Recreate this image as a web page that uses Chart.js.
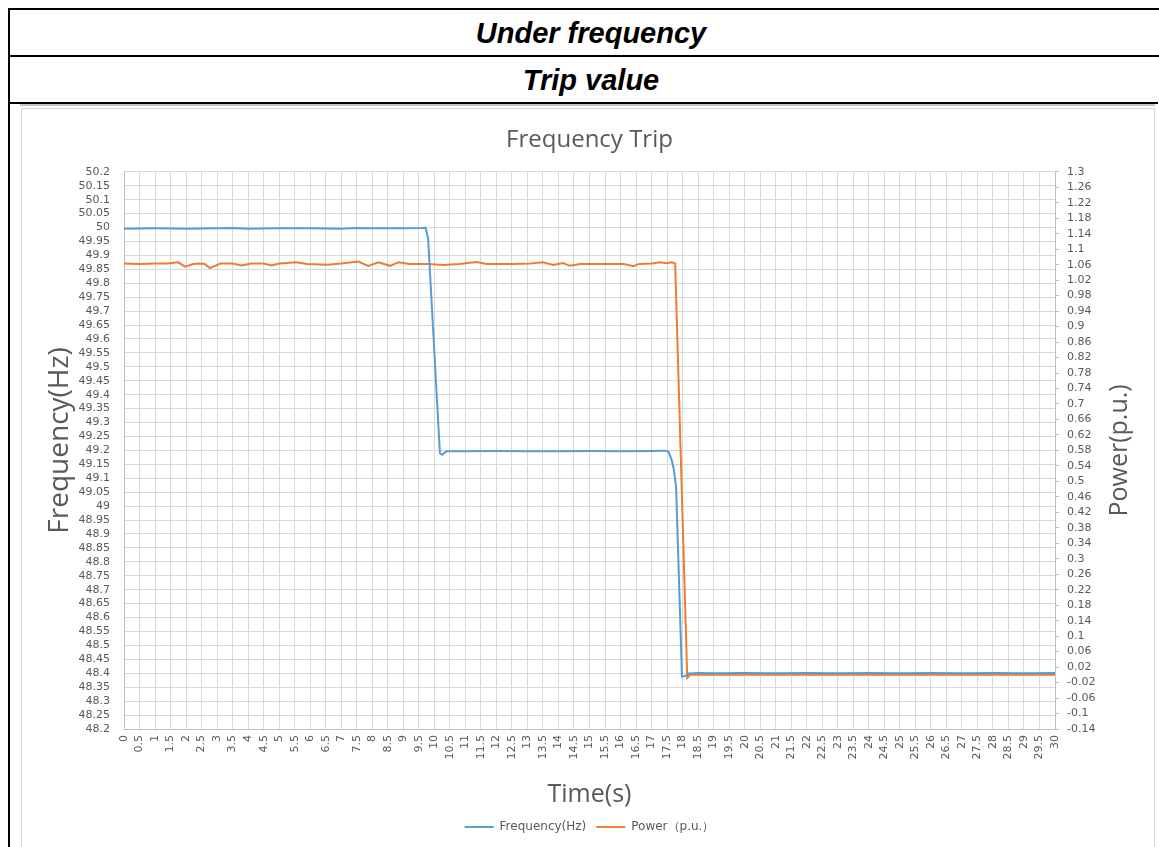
<!DOCTYPE html>
<html>
<head>
<meta charset="utf-8">
<script src="https://cdn.jsdelivr.net/npm/chart.js@4/dist/chart.umd.min.js"></script>
<style>
  html, body { margin: 0; padding: 0; background: #fff; }
  body { width: 1159px; height: 847px; position: relative; overflow: hidden; }
  .cell {
    position: absolute; left: 8px; width: 1162px; height: 45px;
    border-top: 2px solid #000; border-left: 2px solid #000;
    font: italic bold 29px "Liberation Sans", Arial, sans-serif;
    text-align: center; line-height: 47px; color: #000;
  }
  .row1 { top: 8px; }
  .row2 { top: 55px; }
  .rule { position: absolute; left: 8px; top: 102px; width: 1150px; height: 0; border-top: 2px solid #000; }
  .leftEdge { position: absolute; left: 8px; top: 102px; width: 0; height: 745px; border-left: 2px solid #000; }
  .imgTop { position: absolute; left: 20px; top: 104px; width: 1135px; height: 0; border-top: 2px solid #c4c4c4; }
  .frame {
    position: absolute; left: 21px; top: 108px; width: 1134px; height: 739px;
    border-top: 1px solid #d9d9d9; border-left: 1px solid #d9d9d9; border-right: 1px solid #d9d9d9;
    box-sizing: border-box;
  }
  #chart { position: absolute; left: 21px; top: 108px; }
</style>
</head>
<body>
<div class="cell row1">Under frequency</div>
<div class="cell row2">Trip value</div>
<div class="rule"></div>
<div class="leftEdge"></div>
<div class="imgTop"></div>
<div class="frame"></div>
<canvas id="chart" width="1133" height="739"></canvas>
<script>
// values
const freqTime = [0, 1, 2, 3, 3.5, 4, 5, 6, 7, 7.5,
  8, 9, 9.6, 9.72, 9.8, 10.18, 10.25, 10.4, 11, 12,
  13, 14, 15, 16, 17, 17.45, 17.55, 17.65, 17.72, 17.79,
  17.98, 18.08, 18.2, 18.5, 19, 20, 21, 22, 23, 24,
  25, 26, 27, 28, 29, 30];
const freqValue = [49.996, 49.997, 49.996, 49.997, 49.998, 49.996, 49.997, 49.997, 49.996, 49.998,
  49.997, 49.997, 49.998, 49.999, 49.96, 49.19, 49.184, 49.197, 49.197, 49.198,
  49.197, 49.197, 49.198, 49.197, 49.198, 49.199, 49.195, 49.165, 49.13, 49.07,
  48.388, 48.39, 48.399, 48.401, 48.400, 48.401, 48.400, 48.401, 48.400, 48.401,
  48.400, 48.401, 48.400, 48.401, 48.400, 48.401];

const powerTime = [0, 0.5, 1, 1.4, 1.75, 1.97, 2.2, 2.4, 2.6, 2.77,
  3.1, 3.5, 3.79, 4.1, 4.5, 4.76, 5.0, 5.56, 5.9, 6.58,
  7.0, 7.55, 7.87, 8.2, 8.57, 8.84, 9.2, 9.8, 10.3, 10.8,
  11.36, 11.7, 12.5, 13.1, 13.5, 13.83, 14.15, 14.37, 14.7, 15.5,
  16.1, 16.41, 16.6, 17.0, 17.27, 17.49, 17.65, 17.76, 18.15, 18.25,
  19, 20, 21, 22, 23, 24, 25, 26, 27, 28,
  29, 30];
const powerValue = [1.063, 1.062, 1.063, 1.063, 1.066, 1.055, 1.061, 1.063, 1.062, 1.051,
  1.063, 1.063, 1.058, 1.063, 1.063, 1.058, 1.063, 1.066, 1.062, 1.060,
  1.063, 1.068, 1.057, 1.066, 1.057, 1.066, 1.062, 1.062, 1.059, 1.062,
  1.067, 1.062, 1.062, 1.063, 1.066, 1.059, 1.064, 1.057, 1.062, 1.062,
  1.062, 1.056, 1.062, 1.063, 1.066, 1.064, 1.066, 1.063, -0.008, 0.0,
  0.0, 0.001, 0.0, 0.001, 0.0, 0.001, 0.0, 0.001, 0.0, 0.001,
  0.0, 0.0];

const timeRange = [0, 30, 0.5];
const freqRange = [48.2, 50.2, 0.05];
const powerRange = [-0.14, 1.3, 0.04];

const GREY = '#595959';
const GRID = '#d9d9d9';
const AXIS = '#bfbfbf';
const TITLE_FONT = '"Open Sans", sans-serif';

Chart.defaults.font.family = '"DejaVu Sans", sans-serif';
Chart.defaults.font.size = 11;
Chart.defaults.color = GREY;

const toPoints = (xs, ys) => xs.map((x, i) => ({x: x, y: ys[i]}));
const trimNum = (v) => String(+Number(v).toFixed(2));

// both y titles read bottom-to-top, the left one sits a bit above centre
const sideTitles = {
    id: 'sideTitles',
    afterDraw(chart) {
        const ctx = chart.ctx;
        const area = chart.chartArea;
        const mid = (area.top + area.bottom) / 2;
        const put = (text, x, y, size) => {
            ctx.save();
            ctx.translate(x, y);
            ctx.rotate(-Math.PI / 2);
            ctx.fillStyle = GREY;
            ctx.font = `${size}px ${TITLE_FONT}`;
            ctx.textAlign = 'center';
            ctx.textBaseline = 'middle';
            ctx.fillText(text, 0, 0);
            ctx.restore();
        };
        put('Frequency(Hz)', chart.scales.yF.left + 19, mid - 10, 28);
        put('Power(p.u.)', chart.scales.yP.left + 65, mid, 25);
    }
};

const ctx = document.querySelector('#chart').getContext('2d');
new Chart(ctx, {
    type: 'line',
    data: {
        datasets: [
            {
                label: 'Frequency(Hz)',
                data: toPoints(freqTime, freqValue),
                borderColor: '#5B9BD5',
                backgroundColor: '#5B9BD5',
                borderWidth: 2,
                pointRadius: 0,
                yAxisID: 'yF'
            },
            {
                label: 'Power（p.u.）',
                data: toPoints(powerTime, powerValue),
                borderColor: '#ED7D31',
                backgroundColor: '#ED7D31',
                borderWidth: 2,
                pointRadius: 0,
                yAxisID: 'yP'
            }
        ]
    },
    options: {
        responsive: false,
        animation: false,
        devicePixelRatio: 1,
        layout: {padding: {left: 20, right: 0, top: 0, bottom: 4}},
        plugins: {
            title: {
                display: true,
                fullSize: false,
                text: 'Frequency Trip',
                color: GREY,
                font: {family: TITLE_FONT, size: 24, weight: 'normal'},
                padding: {top: 18, bottom: 17}
            },
            legend: {
                position: 'bottom',
                fullSize: false,
                labels: {
                    usePointStyle: true,
                    pointStyle: 'line',
                    pointStyleWidth: 29,
                    padding: 10,
                    color: GREY,
                    font: {size: 12}
                }
            },
            tooltip: {enabled: false}
        },
        scales: {
            x: {
                type: 'linear',
                min: timeRange[0],
                max: timeRange[1],
                grid: {color: GRID, drawTicks: false},
                border: {color: AXIS},
                ticks: {
                    stepSize: timeRange[2],
                    autoSkip: false,
                    minRotation: 90,
                    maxRotation: 90,
                    padding: 6,
                    callback: (v) => trimNum(v)
                },
                title: {
                    display: true,
                    text: 'Time(s)',
                    color: GREY,
                    font: {family: TITLE_FONT, size: 25},
                    padding: {top: 0, bottom: 1}
                },
                afterFit: (scale) => { scale.height = 82; }
            },
            yF: {
                type: 'linear',
                position: 'left',
                min: freqRange[0],
                max: freqRange[1],
                grid: {color: GRID, drawTicks: false},
                border: {color: AXIS},
                ticks: {
                    stepSize: freqRange[2],
                    autoSkip: false,
                    padding: 14,
                    callback: (v) => trimNum(v)
                },
                afterFit: (scale) => { scale.width = 83; }
            },
            yP: {
                type: 'linear',
                position: 'right',
                min: powerRange[0],
                max: powerRange[1],
                grid: {drawOnChartArea: false, tickLength: 4, tickColor: AXIS},
                border: {color: AXIS},
                ticks: {
                    stepSize: powerRange[2],
                    autoSkip: false,
                    padding: 8,
                    callback: (v) => trimNum(v)
                },
                afterFit: (scale) => { scale.width = 99; }
            }
        }
    },
    plugins: [sideTitles]
});
</script>
</body>
</html>
